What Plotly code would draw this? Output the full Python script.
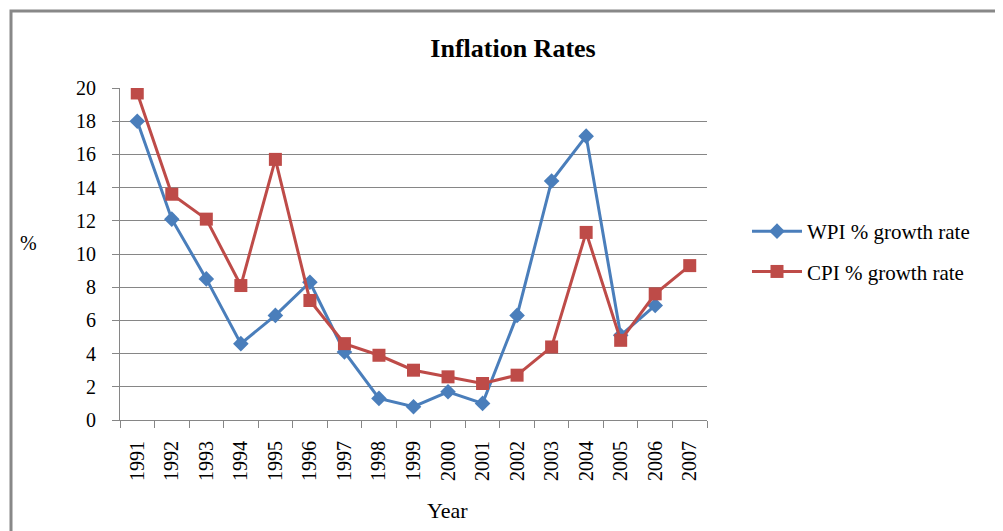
import plotly.graph_objects as go

# Dados do gráfico de inflação
years = [str(y) for y in range(1991, 2008)]
wpi_growth = [18.0, 12.1, 8.5, 4.6, 6.3, 8.3, 4.1, 1.3, 0.8, 1.7, 1.0, 6.3, 14.4, 17.1, 5.1, 6.9, None]
cpi_growth = [19.7, 13.6, 12.1, 8.1, 15.7, 7.2, 4.6, 3.9, 3.0, 2.6, 2.2, 2.7, 4.4, 11.3, 4.8, 7.6, 9.3]
y_ticks = [0, 2, 4, 6, 8, 10, 12, 14, 16, 18, 20]

FONT = "Liberation Serif, Times New Roman, serif"
GRID = "#868686"

# área de plotagem em pixels da figura (a página tem 8px de margem no body)
L, T, R, B = 112, 80, 699, 412
W, H = R - L, B - T


def px(x):
    return (x - L) / W


def py(y):
    return (B - y) / H


fig = go.Figure()
fig.add_trace(go.Scatter(
    x=years, y=wpi_growth, mode="lines+markers", name="WPI % growth rate",
    legendgroup="wpi",
    line=dict(color="#4A7EBB", width=3),
    marker=dict(symbol="diamond", size=12, color="#4A7EBB"),
))
fig.add_trace(go.Scatter(
    x=years, y=cpi_growth, mode="lines+markers", name="CPI % growth rate",
    legendgroup="cpi",
    line=dict(color="#BE4B48", width=3),
    marker=dict(symbol="square", size=13, color="#BE4B48"),
))

fig.update_layout(
    width=1003, height=531,
    margin=dict(l=L, r=1003 - R, t=T, b=531 - B),
    plot_bgcolor="white", paper_bgcolor="white",
    font=dict(family=FONT, size=20, color="black"),
    title=dict(text="<b>Inflation Rates</b>", x=505 / 1003, xanchor="center",
               y=1 - 40 / 531, yanchor="middle", yref="container",
               font=dict(family=FONT, size=26, color="black")),
    legend=dict(x=px(739), y=py(203), xanchor="left", yanchor="top",
                font=dict(family=FONT, size=21), tracegroupgap=10,
                itemwidth=50, bgcolor="rgba(0,0,0,0)"),
    showlegend=True,
)

fig.update_xaxes(
    type="category", range=[-0.5, len(years) - 0.5],
    tickangle=-90, tickson="boundaries",
    ticks="outside", ticklen=7, tickcolor=GRID,
    showline=True, linecolor=GRID, linewidth=1,
    showgrid=False, ticklabelstandoff=12,
    tickfont=dict(family=FONT, size=20),
)
fig.update_yaxes(
    range=[0, 20], tickvals=y_ticks,
    ticks="outside", ticklen=7, tickcolor=GRID,
    showline=True, linecolor=GRID, linewidth=1,
    showgrid=True, gridcolor=GRID, gridwidth=1,
    zeroline=False, ticklabelstandoff=12,
    tickfont=dict(family=FONT, size=20),
)

fig.add_annotation(text="%", x=px(20), y=py(235), xanchor="center", yanchor="middle",
                   xref="paper", yref="paper", showarrow=False,
                   font=dict(family=FONT, size=20))
fig.add_annotation(text="Year", x=px(439), y=py(502), xanchor="center", yanchor="middle",
                   xref="paper", yref="paper", showarrow=False,
                   font=dict(family=FONT, size=22))

# Moldura externa do gráfico
fig.add_shape(type="rect", xref="paper", yref="paper",
              x0=px(3), x1=px(1010), y0=py(540), y1=py(3),
              line=dict(color="#888888", width=3), layer="below")

fig.write_html("out.html")
